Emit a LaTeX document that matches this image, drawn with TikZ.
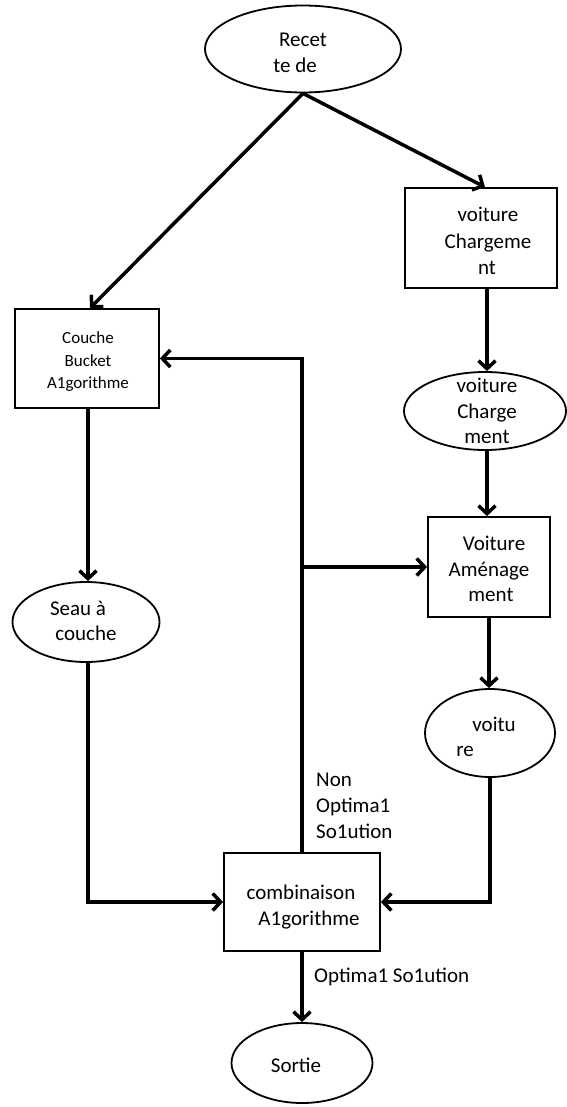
\documentclass[tikz,border=0pt]{standalone}
\usepackage{fontspec}
\setmainfont{Carlito}
\usetikzlibrary{shapes.geometric,arrows.meta}
\tikzset{
  ell/.style={draw, ellipse, line width=1.8pt, inner sep=0pt},
  boxx/.style={draw, rectangle, line width=1.8pt, inner sep=0pt},
  conn/.style={line width=3.5pt, -{Straight Barb[length=8pt,width=17pt]}},
  txt/.style={anchor=base, inner sep=0pt, font=\fontsize{21}{26}\selectfont},
  txts/.style={anchor=base, inner sep=0pt, font=\fontsize{17}{22}\selectfont},
  lbl/.style={anchor=base west, inner sep=0pt, font=\fontsize{21}{26}\selectfont}
}
\begin{document}
\begin{tikzpicture}[x=1pt,y=-1pt]
\useasboundingbox (0,0) rectangle (566,1107);
% shapes
\node[ell, minimum width=196pt, minimum height=87pt] (recette) at (303,49) {};
\node[boxx, minimum width=152pt, minimum height=100pt] (charg) at (481,238) {};
\node[boxx, minimum width=144pt, minimum height=99pt] (couche) at (87,358.5) {};
\node[ell, minimum width=162pt, minimum height=78pt] (chell) at (485,411) {};
\node[boxx, minimum width=122pt, minimum height=100pt] (amen) at (489,567) {};
\node[ell, minimum width=147pt, minimum height=80pt] (seau) at (86,622) {};
\node[ell, minimum width=130pt, minimum height=88pt] (vell) at (490,733) {};
\node[boxx, minimum width=156pt, minimum height=98pt] (comb) at (302,902) {};
\node[ell, minimum width=141pt, minimum height=80pt] (sortie) at (302,1063) {};
% texts
\node[txt] (t1) at (303,47) {Recet};
\node[txt] (t2) at (295,73) {te de};
\node[txt] (t3) at (488,222) {voiture};
\node[txt] (t4) at (488,248) {Chargeme};
\node[txt] (t5) at (487,274) {nt};
\node[txts] (t6) at (88,343.5) {Couche};
\node[txts] (t7) at (88,366) {Bucket};
\node[txts] (t8) at (88,388.5) {A1gorithme};
\node[txt] (t9) at (487,392) {voiture};
\node[txt] (t10) at (487,418) {Charge};
\node[txt] (t11) at (487,443) {ment};
\node[txt] (t12) at (494,550) {Voiture};
\node[txt] (t13) at (489,576) {Aménage};
\node[txt] (t14) at (491,601) {ment};
\node[txt] (t15) at (78,615) {Seau à};
\node[txt] (t16) at (86,640) {couche};
\node[txt] (t17) at (494,731) {voitu};
\node[txt] (t18) at (465,756) {re};
\node[txt] (t19) at (301,899) {combinaison};
\node[txt] (t20) at (309,925) {A1gorithme};
\node[txt] (t21) at (296,1072) {Sortie};
\node[lbl] (l1) at (316,786) {Non};
\node[lbl] (l2) at (316,812) {Optima1};
\node[lbl] (l3) at (316,838) {So1ution};
\node[lbl] (l4) at (314,982) {Optima1 So1ution};
% connectors
\draw[conn] (recette.south) -- ([xshift=3pt]couche.north);
\draw[conn] (recette.south) -- ([xshift=4pt]charg.north);
\draw[conn] ([xshift=6pt]charg.south) -- ([xshift=6pt]charg.south |- chell.north);
\draw[conn] ([xshift=2pt]chell.south) -- ([xshift=2pt]chell.south |- amen.north);
\draw[conn] (amen.south) -- (amen.south |- vell.north);
\draw[conn] ([xshift=1pt]couche.south) -- ([xshift=1pt]couche.south |- seau.north);
\draw[conn] ([xshift=2pt]seau.south) |- (comb.west);
\draw[conn] (vell.south) |- (comb.east);
\draw[conn] (comb.north) |- (couche.east);
\coordinate (br) at (comb.north |- amen.west);
\draw[conn] (br) -- (amen.west);
\draw[conn] (comb.south) -- (sortie.north);
\end{tikzpicture}
\end{document}
